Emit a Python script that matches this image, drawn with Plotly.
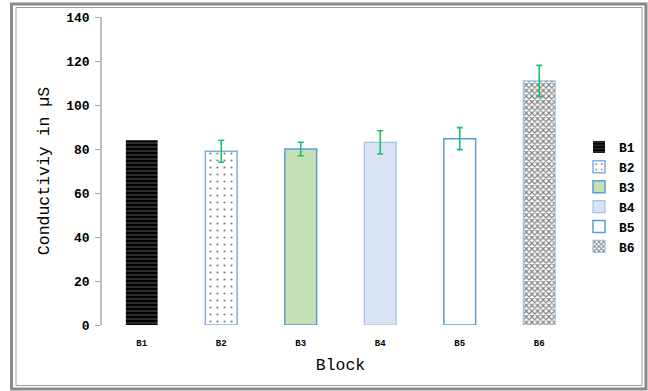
import plotly.graph_objects as go

# Mean conductivity per block with its error margin
blocks = ["B1", "B2", "B3", "B4", "B5", "B6"]
conductivity = [84.0, 79.0, 80.0, 83.0, 84.7, 111.0]
errors = [0.0, 5.0, 3.1, 5.3, 5.0, 7.0]
y_ticks = [0, 20, 40, 60, 80, 100, 120, 140]

# Per-block fill styles
fills = {
    "B1": dict(color="black", pattern=dict(shape="-", fgcolor="#d9d9d9", bgcolor="black", size=4, solidity=0.2), line=dict(width=0)),
    "B2": dict(color="white", pattern=dict(shape=".", fgcolor="black", bgcolor="white", size=7, solidity=0.08), line=dict(color="#7fb0de", width=1.5)),
    "B3": dict(color="#c5e0b4", line=dict(color="#5b9bd5", width=1.5)),
    "B4": dict(color="#dae3f3", line=dict(color="#9dc3e6", width=1.2)),
    "B5": dict(color="white", line=dict(color="#5b9bd5", width=1.5)),
    "B6": dict(color="white", pattern=dict(shape="x", fgcolor="black", bgcolor="white", size=4, solidity=0.5), line=dict(color="#9dc3e6", width=1.2)),
}

mono = "Liberation Mono, Courier New, monospace"

fig = go.Figure()
for name, val, err in zip(blocks, conductivity, errors):
    fig.add_trace(go.Bar(
        x=[name], y=[val], name=name, width=0.4,
        marker=fills[name],
        error_y=dict(type="data", array=[err], visible=err > 0,
                     color="#1fbf6a", thickness=1.6, width=3),
    ))

L, R, T, B = 102, 69, 17, 66
W, H = 648, 391
pw, ph = W - L - R, H - T - B


def px(x):
    return (x - L) / pw


def py(y):
    return (H - B - y) / ph


# Double gray frame around the whole chart
shapes = [
    dict(type="rect", xref="paper", yref="paper", x0=px(11.5), x1=px(646), y0=py(4), y1=py(389),
         line=dict(color="#8a8a8a", width=3), layer="below"),
    dict(type="rect", xref="paper", yref="paper", x0=px(16), x1=px(642), y0=py(7.5), y1=py(385.5),
         line=dict(color="#9a9a9a", width=1), layer="below"),
]

fig.update_layout(
    width=W, height=H,
    margin=dict(l=L, r=R, t=T, b=B, autoexpand=False),
    paper_bgcolor="white", plot_bgcolor="white",
    barmode="overlay",
    showlegend=True,
    legend=dict(x=px(579), y=py(132), xanchor="left", yanchor="top",
                font=dict(family=mono, size=13, color="black", weight="bold"),
                itemwidth=30, tracegroupgap=0, bgcolor="rgba(0,0,0,0)"),
    shapes=shapes,
    xaxis=dict(
        showline=False, showgrid=False, ticks="", zeroline=False,
        tickfont=dict(family=mono, size=9, color="black", weight="bold"),
        ticklabelstandoff=11,
        title=dict(text="Block", font=dict(family=mono, size=16.5, color="black"), standoff=10),
    ),
    yaxis=dict(
        range=[0, 140], tickvals=y_ticks, showgrid=False, zeroline=False,
        showline=True, linecolor="#bfbfbf", linewidth=1.5,
        ticks="outside", ticklen=5, tickcolor="#a6a6a6",
        tickfont=dict(family=mono, size=13, color="black", weight="bold"),
        ticklabelstandoff=3,
        title=dict(text="Conductiviy in µS", font=dict(family=mono, size=16.5, color="black"), standoff=12),
    ),
)

fig.write_html("out.html")
